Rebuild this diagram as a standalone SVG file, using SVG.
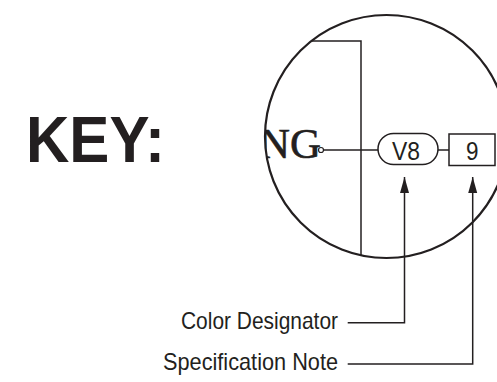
<svg xmlns="http://www.w3.org/2000/svg" width="497" height="382" viewBox="0 0 497 382">
  <style>
    .ln { fill: none; stroke: #231f20; stroke-width: 1.5; }
    .thick { fill: none; stroke: #231f20; stroke-width: 2.2; }
    .cond { font-family: "Liberation Sans", Arial, sans-serif; fill: #231f20; }
  </style>
  <defs>
    <clipPath id="lens">
      <circle cx="386.5" cy="136.5" r="121.5"/>
    </clipPath>
    <marker id="arr" viewBox="0 0 16 10" refX="16" refY="5" markerWidth="16" markerHeight="10" markerUnits="userSpaceOnUse" orient="auto">
      <path d="M16 5 L0 0.5 L0 9.5 Z" fill="#231f20"/>
    </marker>
  </defs>
  <rect width="497" height="382" fill="#ffffff"/>

  <g id="key-title">
    <text x="26" y="162" font-family="'Liberation Sans', Arial, sans-serif" font-weight="bold" font-size="65" textLength="139" lengthAdjust="spacingAndGlyphs" fill="#231f20">KEY:</text>
  </g>

  <g id="magnifier">
    <g clip-path="url(#lens)">
      <text x="259" y="158" font-family="'Liberation Serif', 'Times New Roman', serif" font-size="43" textLength="62" lengthAdjust="spacingAndGlyphs" fill="#231f20" stroke="#231f20" stroke-width="0.6">NG</text>
      <polyline class="ln" points="300,41 361,41 361,262"/>
    </g>
    <circle class="thick" cx="386.5" cy="136.5" r="121.5"/>
  </g>

  <g id="connectors">
    <line class="ln" x1="323.5" y1="150" x2="378" y2="150"/>
    <line class="ln" x1="438" y1="150" x2="449" y2="150"/>
    <polyline class="ln" points="347.7,322.7 404.5,322.7 404.5,177" marker-end="url(#arr)"/>
    <polyline class="ln" points="347.7,364 472.7,364 472.7,177" marker-end="url(#arr)"/>
  </g>

  <g id="terminal">
    <circle cx="321" cy="150" r="2.5" fill="#ffffff" stroke="#231f20" stroke-width="1.2"/>
  </g>

  <g id="v8">
    <rect class="ln" x="378" y="133.5" width="60" height="31" rx="15.5" ry="15.5" fill="#ffffff"/>
    <text class="cond" x="392" y="159.5" font-size="26" textLength="28" lengthAdjust="spacingAndGlyphs">V8</text>
  </g>

  <g id="note9">
    <rect class="ln" x="449" y="134" width="46" height="31.5" fill="#ffffff"/>
    <text class="cond" x="466" y="160" font-size="26" textLength="12.5" lengthAdjust="spacingAndGlyphs">9</text>
  </g>

  <g id="label-color">
    <text class="cond" x="181" y="329" font-size="24" textLength="157" lengthAdjust="spacingAndGlyphs">Color Designator</text>
  </g>

  <g id="label-spec">
    <text class="cond" x="163" y="370" font-size="24" textLength="175" lengthAdjust="spacingAndGlyphs">Specification Note</text>
  </g>
</svg>
